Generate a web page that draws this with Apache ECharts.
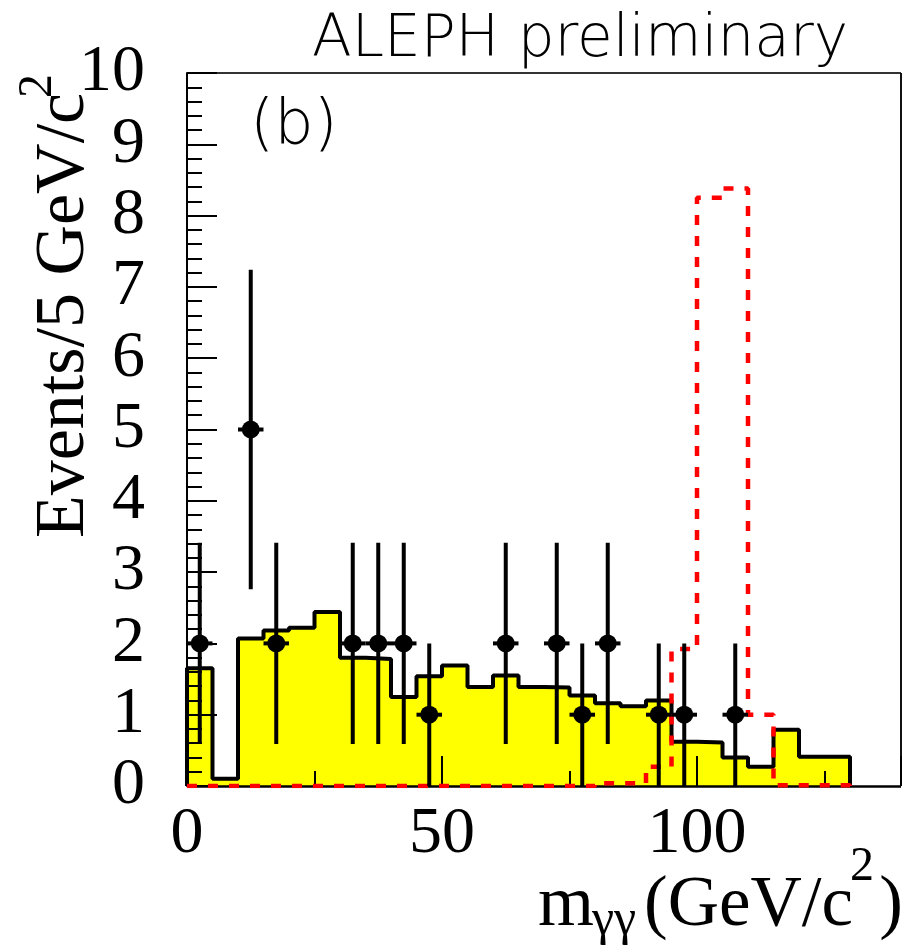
<!DOCTYPE html>
<html><head><meta charset="utf-8">
<script src="https://cdn.jsdelivr.net/npm/echarts@6/dist/echarts.min.js"></script>
<style>html,body{margin:0;padding:0;background:#fff;overflow:hidden}#c{width:909px;height:950px}</style>
</head><body><div id="c"></div>
<script>
// ---- data ----
const binLow = [0,5,10,15,20,25,30,35,40,45,50,55,60,65,70,75,80,85,90,95,100,105,110,115,120,125];
const binWidth = 5;
const background = [1.65,0.10,2.07,2.18,2.22,2.44,1.80,1.78,1.25,1.54,1.69,1.39,1.55,1.39,1.38,1.27,1.16,1.12,1.20,0.62,0.61,0.40,0.27,0.79,0.41,0.41];
const signal = [0,0,0,0,0,0,0,0,0,0,0,0,0,0,0,0,0.04,0.04,0.27,1.92,8.25,8.38,1.00,0.01,0.01,0.01];
const dataX = [2.5,12.5,17.5,32.5,37.5,42.5,47.5,62.5,72.5,77.5,82.5,92.5,97.5,107.5];
const dataY = [2,5,2,2,2,2,1,2,2,1,2,1,1,1];
const errLow = [0.59,2.76,0.59,0.59,0.59,0.59,0,0.59,0.59,0,0.59,0,0,0];
const errHigh = [3.41,7.24,3.41,3.41,3.41,3.41,2,3.41,3.41,2,3.41,2,2,2];
const xRange = [0, 140];
const yRange = [0, 10];
const xMajor = 50, xMinor = 25;
const xTitle = ['m', 'γγ', '(GeV/c', '2', ')'];
const yTitle = ['Events/5 GeV/c', '2'];
const headerText = 'ALEPH preliminary';
const panelText = '(b)';

// ---- build step outlines from bins ----
function stepPoints(vals, closeStart) {
  const pts = [];
  if (closeStart) pts.push([binLow[0], 0]);
  vals.forEach((v, i) => { pts.push([binLow[i], v]); pts.push([binLow[i] + binWidth, v]); });
  pts.push([binLow[binLow.length - 1] + binWidth, 0]);
  return pts;
}
const serif = '"Liberation Serif","Times New Roman",serif';
const sans = '"DejaVu Sans",sans-serif';
const halfBin = binWidth / 2;

const chart = echarts.init(document.getElementById('c'), null, {renderer: 'canvas'});
chart.setOption({
  animation: false,
  backgroundColor: '#fff',
  grid: {left: 187, top: 73, right: 8, bottom: 164, containLabel: false},
  xAxis: [{
    type: 'value', min: xRange[0], max: xRange[1], interval: xMajor, z: 5, position: 'bottom',
    axisLine: {show: false},
    axisTick: {show: true, inside: true, length: 30, lineStyle: {color: '#000', width: 2}},
    splitLine: {show: false},
    axisLabel: {fontFamily: serif, fontSize: 66, color: '#000', margin: 16,
      formatter: v => (v % xMajor === 0 ? String(v) : '')}
  }, {
    type: 'value', min: xRange[0], max: xRange[1], interval: xMinor, z: 5, position: 'bottom', offset: 0,
    axisLine: {show: false},
    axisTick: {show: true, inside: true, length: 15, lineStyle: {color: '#000', width: 2}},
    splitLine: {show: false},
    axisLabel: {show: false}
  }],
  yAxis: {
    type: 'value', min: yRange[0], max: yRange[1], interval: 1, z: 5,
    axisLine: {show: true, onZero: false, lineStyle: {color: '#000', width: 2}},
    axisTick: {show: true, inside: true, length: 30, lineStyle: {color: '#000', width: 2}},
    minorTick: {show: true, splitNumber: 5, length: 15, lineStyle: {color: '#000', width: 2}},
    splitLine: {show: false}, minorSplitLine: {show: false},
    axisLabel: {fontFamily: serif, fontSize: 66, color: '#000', margin: 42}
  },
  series: [
    {
      type: 'line', z: 2, data: stepPoints(background, true), showSymbol: false, symbol: 'none',
      lineStyle: {color: '#000', width: 4}, areaStyle: {color: '#ffff00', opacity: 1},
      markLine: {
        silent: true, symbol: ['none', 'none'], label: {show: false}, z: 5,
        lineStyle: {type: 'solid'},
        data: [
          [{coord: [xRange[0], yRange[0]], lineStyle: {color: '#000', width: 2.5}}, {coord: [xRange[1], yRange[0]]}],
          [{coord: [xRange[0], yRange[1]], lineStyle: {color: '#333', width: 1.8}}, {coord: [xRange[1], yRange[1]]}],
          [{coord: [xRange[1], yRange[0]], lineStyle: {color: '#111', width: 2}}, {coord: [xRange[1], yRange[1]]}]
        ]
      }
    },
    {
      type: 'line', z: 6, data: stepPoints(signal, false), showSymbol: false, symbol: 'none',
      lineStyle: {color: '#ff0000', width: 4.5, type: [10, 11]}
    },
    {
      type: 'custom', z: 7,
      renderItem: (params, api) => {
        const x = api.value(0), y = api.value(1), lo = api.value(2), hi = api.value(3);
        const pLo = api.coord([x, lo]), pHi = api.coord([x, hi]);
        const pL = api.coord([x - halfBin, y]), pR = api.coord([x + halfBin, y]);
        return {type: 'group', children: [
          {type: 'line', shape: {x1: pLo[0], y1: pLo[1], x2: pHi[0], y2: pHi[1]}, style: {stroke: '#000', lineWidth: 4}},
          {type: 'line', shape: {x1: pL[0], y1: pL[1], x2: pR[0], y2: pR[1]}, style: {stroke: '#000', lineWidth: 4}}
        ]};
      },
      data: dataX.map((x, i) => [x, dataY[i], errLow[i], errHigh[i]])
    },
    {
      type: 'scatter', z: 8, symbol: 'circle', symbolSize: 18,
      itemStyle: {color: '#000', opacity: 1},
      data: dataX.map((x, i) => [x, dataY[i]])
    }
  ],
  graphic: [
    {type: 'text', left: 312, top: 12, style: {text: headerText, font: '200 58px ' + sans, fill: '#000'}},
    {type: 'text', x: 250, y: 127, style: {text: panelText, font: '200 62px ' + sans, fill: '#000', align: 'left', verticalAlign: 'middle'}},
    {type: 'text', x: 65, y: 538, rotation: Math.PI / 2,
      style: {text: yTitle[0], font: '70px ' + serif, fill: '#000', align: 'left', verticalAlign: 'middle'}},
    {type: 'text', x: 38, y: 98, rotation: Math.PI / 2,
      style: {text: yTitle[1], font: '48px ' + serif, fill: '#000', align: 'left', verticalAlign: 'middle'}},
    {type: 'text', x: 538, y: 906,
      style: {text: xTitle[0], font: '72px ' + serif, fill: '#000', align: 'left', verticalAlign: 'middle'}},
    {type: 'text', x: 592, y: 921,
      style: {text: xTitle[1], font: '50px ' + serif, fill: '#000', align: 'left', verticalAlign: 'middle'}},
    {type: 'text', x: 644, y: 906,
      style: {text: xTitle[2], font: '71px ' + serif, fill: '#000', align: 'left', verticalAlign: 'middle'}},
    {type: 'text', x: 850, y: 867,
      style: {text: xTitle[3], font: '48px ' + serif, fill: '#000', align: 'left', verticalAlign: 'middle'}},
    {type: 'text', x: 903, y: 906,
      style: {text: xTitle[4], font: '71px ' + serif, fill: '#000', align: 'right', verticalAlign: 'middle'}}
  ]
});
</script>
</body></html>
